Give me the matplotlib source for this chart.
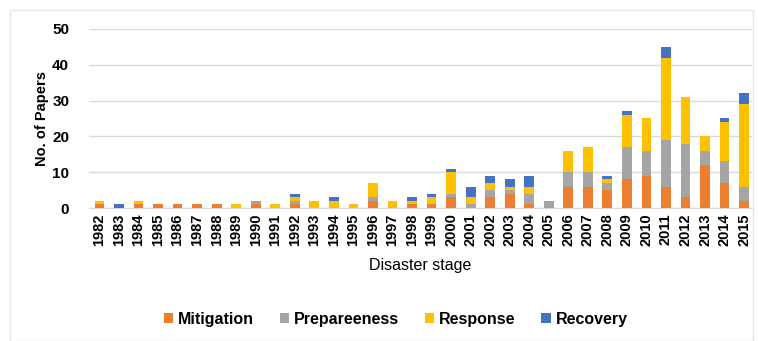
import numpy as np
import matplotlib.pyplot as plt
from matplotlib.patches import Rectangle

### Data
### ---------------------------
years = [str(y) for y in range(1982, 2016)]
mitigation   = [1, 0, 1, 1, 1, 1, 1, 0, 1, 0, 1, 0, 0, 0, 2, 0, 1, 1, 3, 0, 3, 4, 1, 0,
                6, 6, 5, 8, 9, 6, 3, 12, 7, 2]
prepareeness = [0, 0, 0, 0, 0, 0, 0, 0, 1, 0, 1, 0, 0, 0, 1, 0, 0, 0, 1, 1, 2, 1, 3, 2,
                4, 4, 2, 9, 7, 13, 15, 4, 6, 4]
response     = [1, 0, 1, 0, 0, 0, 0, 1, 0, 1, 1, 2, 2, 1, 4, 2, 1, 2, 6, 2, 2, 1, 2, 0,
                6, 7, 1, 9, 9, 23, 13, 4, 11, 23]
recovery     = [0, 1, 0, 0, 0, 0, 0, 0, 0, 0, 1, 0, 1, 0, 0, 0, 1, 1, 1, 3, 2, 2, 3, 0,
                0, 0, 1, 1, 0, 3, 0, 0, 1, 3]

series = [("Mitigation", mitigation, "#ED7D31"),
          ("Prepareeness", prepareeness, "#A5A5A5"),
          ("Response", response, "#FFC000"),
          ("Recovery", recovery, "#4472C4")]

plt.rcParams['font.family'] = ['Liberation Sans', 'DejaVu Sans']

fig = plt.figure(figsize=(7.58, 3.41), dpi=100)
ax = fig.add_axes([0.117, 0.39, 0.875, 0.525])

### Stacked bars
x = np.arange(len(years))
bottom = np.zeros(len(years))
for name, vals, color in series:
    vals = np.array(vals)
    ax.bar(x, vals, bottom=bottom, width=0.5, color=color, label=name, zorder=3)
    bottom += vals

### Decorate
ax.set_ylim(0, 50)
ax.set_xlim(-0.55, len(years) - 0.6)
ax.set_yticks(range(0, 51, 10))
ax.set_xticks(x)
ax.set_xticklabels(years, rotation=90, fontsize=10.5, fontweight='bold')
ax.tick_params(axis='y', labelsize=11, length=0, pad=14)
ax.tick_params(axis='x', length=0, pad=4)
for lab in ax.get_yticklabels():
    lab.set_fontweight('bold')
ax.grid(axis='y', color='#D9D9D9', linewidth=1, zorder=0)
for s in ['top', 'right', 'left']:
    ax.spines[s].set_visible(False)
ax.spines['bottom'].set_color('#D9D9D9')

ax.set_ylabel("No. of Papers", fontsize=10.5, fontweight='bold', labelpad=2)
ax.set_xlabel("Disaster stage", fontsize=11.5, labelpad=8)

fig.legend(loc='lower center', bbox_to_anchor=(0.522, 0.0), ncol=4, frameon=False,
           handlelength=0.6, handleheight=0.6, handletextpad=0.3,
           columnspacing=1.6, prop={'weight': 'bold', 'size': 11.5})

### Light frame around chart
fig.patches.append(Rectangle((0.013, 0.0), 0.98, 0.97, transform=fig.transFigure,
                             fill=False, edgecolor='#E6E6E6', linewidth=1))

fig.savefig("out.png", dpi=100)
